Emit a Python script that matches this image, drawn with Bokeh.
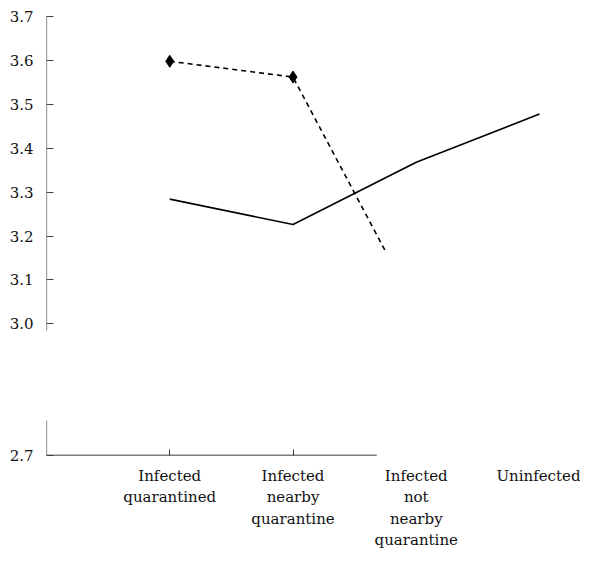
from bokeh.plotting import figure
from bokeh.models import FixedTicker, LinearAxis, Range1d
from bokeh.embed import file_html
from bokeh.resources import INLINE

categories = ["Infected\nquarantined", "Infected\nnearby\nquarantine",
              "Infected\nnot\nnearby\nquarantine", "Uninfected"]
cat_x = [1, 2, 3, 4]
solid_values = [3.284, 3.226, 3.368, 3.478]
dashed_x = [1, 2, 2.76]
dashed_values = [3.598, 3.562, 3.16]
marker_x = [1, 2]
marker_values = [3.598, 3.562]
y_ticks = [2.7, 3.0, 3.1, 3.2, 3.3, 3.4, 3.5, 3.6, 3.7]

FONT = "DejaVu Serif"

p = figure(width=580, height=562, output_backend="svg", toolbar_location=None,
           x_range=Range1d(0, 4.3), y_range=Range1d(2.7, 3.7),
           x_axis_location=None, y_axis_location=None,
           min_border_top=16, min_border_left=46, min_border_right=4, min_border_bottom=107)
p.outline_line_color = None
p.grid.visible = False
p.background_fill_color = "white"

# y axis (line drawn separately for the break)
yax = LinearAxis(ticker=FixedTicker(ticks=y_ticks))
p.add_layout(yax, "left")
yax.axis_line_color = None
yax.major_tick_in = 7
yax.major_tick_out = 0
yax.minor_tick_line_color = None
yax.major_tick_line_color = "#444444"
yax.major_label_text_font = FONT
yax.major_label_text_font_size = "15px"
yax.major_label_text_color = "#111111"
yax.major_label_standoff = 13
yax.major_label_overrides = {2.7: "2.7", 3.0: "3.0", 3.1: "3.1", 3.2: "3.2", 3.3: "3.3",
                             3.4: "3.4", 3.5: "3.5", 3.6: "3.6", 3.7: "3.7"}

# x axis ticks (only first two visible)
xticks = LinearAxis(ticker=FixedTicker(ticks=[1, 2]))
p.add_layout(xticks, "below")
xticks.axis_line_color = None
xticks.major_tick_in = 6
xticks.major_tick_out = 0
xticks.minor_tick_line_color = None
xticks.major_tick_line_color = "#333333"
xticks.major_label_text_font_size = "1px"
xticks.major_label_standoff = 0
xticks.major_label_overrides = {1: "", 2: ""}

xlab = LinearAxis(ticker=FixedTicker(ticks=cat_x))
p.add_layout(xlab, "below")
xlab.axis_line_color = None
xlab.major_tick_line_color = None
xlab.minor_tick_line_color = None
xlab.major_label_text_font = FONT
xlab.major_label_text_font_size = "15px"
xlab.major_label_text_line_height = 1.2
xlab.major_label_text_color = "#111111"
xlab.major_label_standoff = 5
xlab.major_label_overrides = {i: c for i, c in zip(cat_x, categories)}

# axis lines with break
p.segment(x0=[0, 0], y0=[3.7, 2.7], x1=[0, 0], y1=[2.984, 2.78],
          line_color="#444444", line_width=1.2)
p.segment(x0=[0], y0=[2.7], x1=[2.68], y1=[2.7], line_color="black", line_width=1.5)

# series
p.line(cat_x, solid_values, line_color="black", line_width=1.6)
p.line(dashed_x, dashed_values, line_color="black", line_width=1.6, line_dash="5 4")
p.scatter(marker_x, marker_values, marker="diamond", size=12, color="black")

open("out.html", "w").write(file_html(p, INLINE))
